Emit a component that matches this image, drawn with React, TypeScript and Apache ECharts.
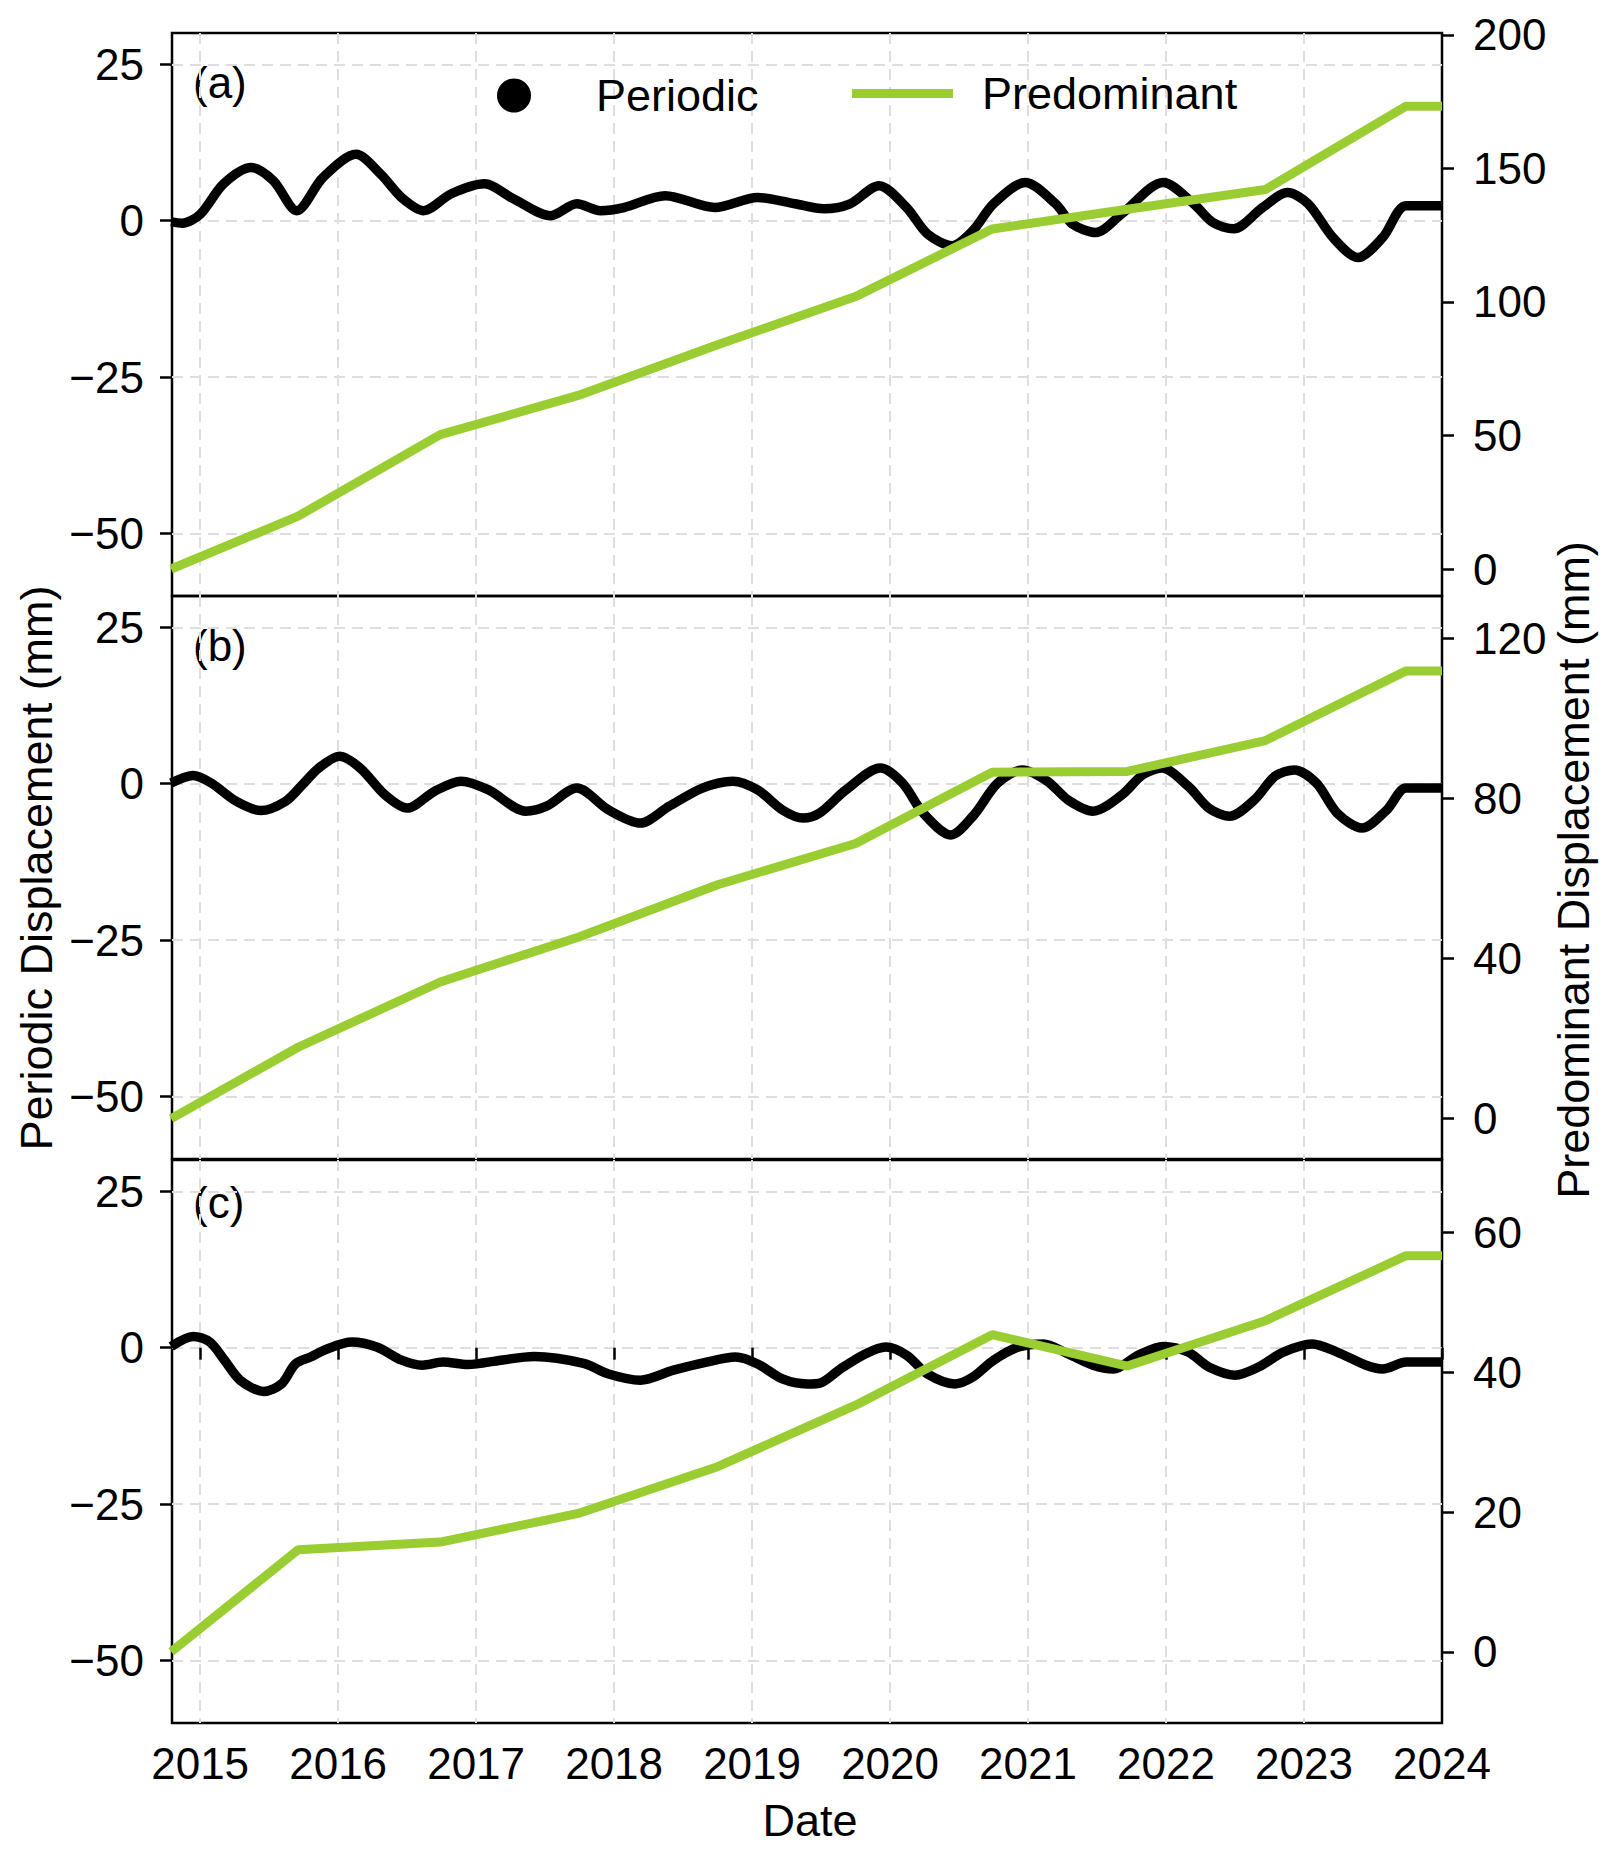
import React, { useEffect, useRef } from 'react';
import * as echarts from 'echarts';

// shared time axis (decimal years)
const xMin = 2014.796;
const xMax = 2024.0;
const yearTicks = [2015, 2016, 2017, 2018, 2019, 2020, 2021, 2022, 2023, 2024];

// periodic displacement (mm)
const periodicA: [number, number][] = [
  [2014.79, -0.2], [2014.87, -0.4], [2015.0, 1.0], [2015.17, 5.9], [2015.37, 8.5],
  [2015.53, 6.4], [2015.7, 1.6], [2015.89, 6.9], [2016.13, 10.6], [2016.31, 7.4],
  [2016.46, 3.7], [2016.62, 1.6], [2016.82, 4.3], [2017.06, 5.9], [2017.27, 3.5],
  [2017.54, 0.8], [2017.73, 2.7], [2017.9, 1.6], [2018.07, 2.1], [2018.37, 4.0],
  [2018.73, 2.1], [2019.04, 3.7], [2019.31, 2.7], [2019.52, 1.9], [2019.71, 2.7],
  [2019.92, 5.6], [2020.12, 2.1], [2020.27, -2.1], [2020.45, -4.0], [2020.6, -1.6],
  [2020.75, 2.7], [2020.98, 6.1], [2021.2, 2.7], [2021.32, -0.5], [2021.49, -1.9],
  [2021.68, 1.1], [2021.98, 6.1], [2022.2, 2.7], [2022.34, -0.3], [2022.49, -1.3],
  [2022.7, 2.1], [2022.88, 4.5], [2023.03, 2.7], [2023.21, -2.7], [2023.39, -5.9],
  [2023.57, -2.7], [2023.74, 2.4], [2024.0, 2.4],
];

const periodicB: [number, number][] = [
  [2014.79, 0.1], [2014.95, 1.3], [2015.08, 0.1], [2015.26, -2.8], [2015.44, -4.3],
  [2015.62, -2.8], [2015.74, -0.2], [2015.86, 2.5], [2016.01, 4.4], [2016.16, 2.5],
  [2016.34, -1.8], [2016.5, -3.9], [2016.7, -1.2], [2016.89, 0.4], [2017.09, -1.0],
  [2017.36, -4.4], [2017.51, -3.6], [2017.73, -0.7], [2017.96, -4.2], [2018.19, -6.3],
  [2018.4, -3.6], [2018.64, -0.7], [2018.86, 0.4], [2019.04, -1.0], [2019.22, -4.2],
  [2019.37, -5.5], [2019.49, -4.7], [2019.68, -1.0], [2019.93, 2.5], [2020.09, 0.1],
  [2020.24, -4.7], [2020.44, -8.2], [2020.6, -5.2], [2020.78, 0.1], [2020.96, 2.2],
  [2021.14, 0.4], [2021.29, -2.6], [2021.47, -4.4], [2021.68, -1.8], [2021.83, 1.4],
  [2021.97, 2.5], [2022.16, -0.4], [2022.31, -3.9], [2022.46, -5.2], [2022.64, -2.6],
  [2022.79, 1.2], [2022.93, 2.2], [2023.09, 0.1], [2023.24, -4.7], [2023.42, -7.1],
  [2023.6, -4.2], [2023.74, -0.7], [2024.0, -0.7],
];

const periodicC: [number, number][] = [
  [2014.79, 0.2], [2014.95, 1.8], [2015.07, 0.9], [2015.17, -1.8], [2015.29, -5.2],
  [2015.46, -7.0], [2015.59, -5.8], [2015.69, -2.6], [2015.8, -1.5], [2015.92, -0.2],
  [2016.1, 0.9], [2016.28, 0.1], [2016.46, -2.0], [2016.61, -2.8], [2016.76, -2.3],
  [2016.94, -2.7], [2017.18, -2.0], [2017.42, -1.4], [2017.78, -2.5], [2017.96, -4.2],
  [2018.19, -5.2], [2018.43, -3.6], [2018.67, -2.3], [2018.88, -1.5], [2019.04, -2.6],
  [2019.22, -5.0], [2019.4, -5.8], [2019.5, -5.6], [2019.64, -3.4], [2019.82, -1.0],
  [2019.97, 0.1], [2020.12, -1.2], [2020.27, -4.2], [2020.47, -5.8], [2020.6, -4.7],
  [2020.75, -2.0], [2020.93, 0.1], [2021.11, 0.6], [2021.29, -1.0], [2021.47, -2.8],
  [2021.62, -3.4], [2021.8, -1.2], [2021.98, 0.2], [2022.16, -0.7], [2022.31, -3.1],
  [2022.5, -4.4], [2022.67, -3.1], [2022.85, -0.7], [2023.06, 0.6], [2023.24, -0.7],
  [2023.45, -2.8], [2023.57, -3.4], [2023.74, -2.3], [2024.0, -2.3],
];

// predominant displacement (mm), piecewise linear
const trendDates = [2014.79, 2015.71, 2016.74, 2017.74, 2018.75, 2019.75, 2020.74, 2021.72, 2022.72, 2023.74, 2024.0];
const predominantA = [0, 19.8, 50.3, 65, 84, 102, 127.3, 134.7, 142.1, 173.3, 173.3];
const predominantB = [0, 17.8, 34.1, 45.3, 58.4, 68.7, 86.5, 86.7, 94.4, 111.8, 111.8];
const predominantC = [0, 14.6, 15.7, 19.8, 26.5, 35.3, 45.4, 40.9, 47.4, 56.7, 56.7];

const leftTicks = [-50, -25, 0, 25];
const rightTicksA = [0, 50, 100, 150, 200];
const rightTicksB = [0, 40, 80, 120];
const rightTicksC = [0, 20, 40, 60];

const panelLabels = ['(a)', '(b)', '(c)'];

const FONT = '"Liberation Sans", Arial, Helvetica, sans-serif';
const GREEN = '#9ACD32';

const panels = [
  { top: 33, periodic: periodicA, trend: predominantA, rightTicks: rightTicksA, rMin: -10.1, rMax: 200.7, labelY: 82 },
  { top: 596, periodic: periodicB, trend: predominantB, rightTicks: rightTicksB, rMin: -10.1, rMax: 130.5, labelY: 645 },
  { top: 1160, periodic: periodicC, trend: predominantC, rightTicks: rightTicksC, rMin: -10.2, rMax: 70.4, labelY: 1202 },
];

const minus = (v: number) => (v < 0 ? '\u2212' + Math.abs(v) : String(v));

export default function App() {
  const chartRef = useRef<HTMLDivElement>(null);

  useEffect(() => {
    document.body.style.margin = '0';
    if (!chartRef.current) return;
    const chart = echarts.init(chartRef.current, null, { renderer: 'svg' });

    const tickLine = { color: '#000', width: 2.5 };
    const labelStyle = { color: '#000', fontSize: 44, fontFamily: FONT };
    const gridLine = { color: '#dedede', width: 2, type: [11, 7] };

    const option: any = {
      animation: false,
      backgroundColor: '#fff',
      grid: panels.map((p) => ({
        left: 172,
        width: 1270,
        top: p.top,
        height: 563,
        show: true,
        borderColor: '#000',
        borderWidth: 2.5,
        backgroundColor: 'transparent',
      })),
      xAxis: panels.map((p, i) => {
        const last = i === panels.length - 1;
        return {
          type: 'value',
          gridIndex: i,
          min: xMin,
          max: xMax,
          axisLine: { show: false },
          axisTick: { show: last, length: 12, lineStyle: tickLine, customValues: yearTicks },
          axisLabel: {
            show: last,
            customValues: yearTicks,
            margin: 18,
            formatter: (v: number) => String(v),
            ...labelStyle,
          },
          splitLine: { show: true, showMaxLine: false, lineStyle: gridLine },
        };
      }),
      yAxis: panels.flatMap((p, i) => [
        {
          type: 'value',
          gridIndex: i,
          position: 'left',
          min: -60,
          max: 30,
          axisLine: { show: false },
          axisTick: { show: true, length: 12, lineStyle: tickLine, customValues: leftTicks },
          axisLabel: { customValues: leftTicks, margin: 28, formatter: minus, ...labelStyle },
          splitLine: { show: true, lineStyle: gridLine },
        },
        {
          type: 'value',
          gridIndex: i,
          position: 'right',
          min: p.rMin,
          max: p.rMax,
          axisLine: { show: false },
          axisTick: { show: true, length: 12, lineStyle: tickLine, customValues: p.rightTicks },
          axisLabel: { customValues: p.rightTicks, margin: 31, formatter: minus, ...labelStyle },
          splitLine: { show: false },
        },
      ]),
      legend: [
        {
          data: [{ name: 'Periodic', icon: 'circle' }],
          left: 492,
          top: 68,
          itemWidth: 34,
          itemHeight: 34,
          textStyle: { color: '#000', fontSize: 45, fontFamily: FONT, padding: [0, 0, 0, 60] },
        },
        {
          data: [{ name: 'Predominant', icon: 'rect' }],
          left: 847,
          top: 66,
          itemWidth: 101,
          itemHeight: 9,
          textStyle: { color: '#000', fontSize: 45, fontFamily: FONT, padding: [0, 0, 0, 24] },
        },
      ],
      series: [
        ...panels.map((p, i) => ({
          name: 'Periodic',
          type: 'line',
          xAxisIndex: i,
          yAxisIndex: i * 2,
          data: p.periodic,
          smooth: 0.3,
          showSymbol: false,
          lineStyle: { color: '#000', width: 9.5 },
          itemStyle: { color: '#000' },
          z: 2,
        })),
        ...panels.map((p, i) => ({
          name: 'Predominant',
          type: 'line',
          xAxisIndex: i,
          yAxisIndex: i * 2 + 1,
          data: trendDates.map((d, k) => [d, p.trend[k]]),
          showSymbol: false,
          lineStyle: { color: GREEN, width: 9 },
          itemStyle: { color: GREEN },
          z: 3,
        })),
      ],
      graphic: [
        ...panels.map((p, i) => ({
          type: 'text',
          x: 193,
          y: p.labelY,
          style: {
            text: panelLabels[i],
            font: `44px ${FONT}`,
            fill: '#000',
            verticalAlign: 'middle',
          },
        })),
        {
          type: 'text',
          x: 36,
          y: 868,
          rotation: Math.PI / 2,
          style: {
            text: 'Periodic Displacement (mm)',
            font: `45px ${FONT}`,
            fill: '#000',
            align: 'center',
            verticalAlign: 'middle',
          },
        },
        {
          type: 'text',
          x: 1573,
          y: 870,
          rotation: Math.PI / 2,
          style: {
            text: 'Predominant Displacement (mm)',
            font: `45px ${FONT}`,
            fill: '#000',
            align: 'center',
            verticalAlign: 'middle',
          },
        },
        {
          type: 'text',
          x: 810,
          y: 1820,
          style: {
            text: 'Date',
            font: `45px ${FONT}`,
            fill: '#000',
            align: 'center',
            verticalAlign: 'middle',
          },
        },
      ],
    };

    chart.setOption(option);
    return () => chart.dispose();
  }, []);

  return <div ref={chartRef} style={{ width: 1620, height: 1851 }} />;
}
